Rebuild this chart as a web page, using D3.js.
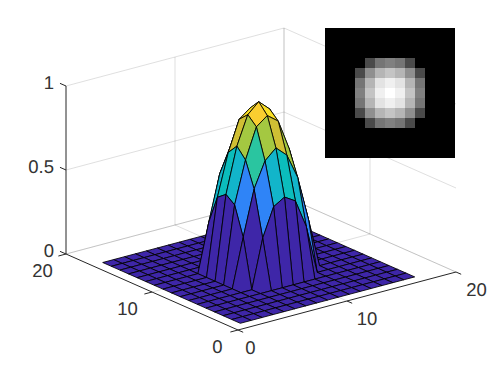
<!DOCTYPE html>
<html>
<head>
<meta charset="utf-8">
<script src="https://d3js.org/d3.v7.min.js"></script>
<style>
  html,body{margin:0;padding:0;background:#fff;overflow:hidden;}
  svg{display:block;}
  text{font-family:"Liberation Sans",Arial,sans-serif;font-size:18.5px;fill:#333;text-rendering:geometricPrecision;}
</style>
</head>
<body>
<svg></svg>
<script>
// image values, 0 = black, 1 = white
var imageRows = [
  [0,0,0,0,0,0,0,0,0,0,0,0,0],
  [0,0,0,0,0,0,0,0,0,0,0,0,0],
  [0,0,0,0,0,0,0,0,0,0,0,0,0],
  [0,0,0,0,.29,.46,.5,.46,.29,0,0,0,0],
  [0,0,0,.29,.56,.71,.77,.71,.56,.29,0,0,0],
  [0,0,0,.46,.71,.89,.94,.89,.71,.46,0,0,0],
  [0,0,0,.5,.77,.94,1,.94,.77,.5,0,0,0],
  [0,0,0,.46,.71,.89,.94,.89,.71,.46,0,0,0],
  [0,0,0,.29,.56,.71,.77,.71,.56,.29,0,0,0],
  [0,0,0,0,.29,.46,.5,.46,.29,0,0,0,0],
  [0,0,0,0,0,0,0,0,0,0,0,0,0],
  [0,0,0,0,0,0,0,0,0,0,0,0,0],
  [0,0,0,0,0,0,0,0,0,0,0,0,0]
];
var surfacePad = 2;
var xTicks = [0,10,20];
var yTicks = [0,10,20];
var zTicks = [0,0.5,1];
var zTickLabels = ["0","0.5","1"];
var parulaStops = ["#3e26a8","#4741e5","#4563fd","#2d88f6","#1ca9e0","#0bbdbc","#3fca8e","#9dc943","#e6bb2d","#fcd030","#f9fb15"];

var width = 503, height = 372;
var svg = d3.select("svg").attr("width",width).attr("height",height);

// oblique view: every axis adds its own screen offset
var xToPx = d3.scaleLinear().domain([0,20]).range([238,456]);
var xToPy = d3.scaleLinear().domain([0,20]).range([330,272]);
var yToPx = d3.scaleLinear().domain([0,20]).range([0,-172]);
var yToPy = d3.scaleLinear().domain([0,20]).range([0,-76]);
var zToPy = d3.scaleLinear().domain([0,1]).range([0,-168]);
var color = d3.scaleLinear().domain(d3.range(11).map(function(d){return d/10})).range(parulaStops);

function project(x,y,z){
  return [xToPx(x)+yToPx(y), xToPy(x)+yToPy(y)+zToPy(z)];
}
var line = d3.line();

function seg(parent,a,b,stroke,w){
  parent.append("path")
        .attr("d",line([project(a[0],a[1],a[2]),project(b[0],b[1],b[2])]))
        .attr("fill","none")
        .attr("stroke",stroke)
        .attr("stroke-width",w);
}

// grid on the two back walls and the floor
var grid = svg.append("g").attr("stroke-opacity",0.15);
zTicks.forEach(function(z){
  seg(grid,[0,20,z],[20,20,z],"#262626",1);
  seg(grid,[20,20,z],[20,0,z],"#262626",1);
});
xTicks.slice(1).forEach(function(x){
  seg(grid,[x,20,0],[x,20,1],"#262626",1);
  seg(grid,[x,0,0],[x,20,0],"#262626",1);
});
yTicks.slice(1).forEach(function(y){
  seg(grid,[20,y,0],[20,y,1],"#262626",1);
  seg(grid,[0,y,0],[20,y,0],"#262626",1);
});

// axis lines and ticks
var axes = svg.append("g");
seg(axes,[0,20,0],[0,20,1],"#262626",1);
seg(axes,[0,0,0],[20,0,0],"#262626",1);
seg(axes,[0,0,0],[0,20,0],"#262626",1);
zTicks.forEach(function(z){
  seg(axes,[0,20,z],[0,20.7,z],"#262626",1);
});
xTicks.forEach(function(x){
  seg(axes,[x,0,0],[x,-0.6,0],"#262626",1);
});
yTicks.forEach(function(y){
  seg(axes,[0,y,0],[-0.7,y,0],"#262626",1);
});

// surface: the image with a zero border, x and y run 1..17
var n = imageRows.length + 2*surfacePad;
function height3d(i,j){
  var r = imageRows[j-surfacePad], v = r ? r[i-surfacePad] : 0;
  return v === undefined ? 0 : v;
}
var faces = [];
// back to front so nearer faces cover farther ones
for(var i=n-2;i>=0;i--){
  for(var j=n-2;j>=0;j--){
    faces.push({i:i,j:j});
  }
}
svg.append("g").selectAll("path")
   .data(faces)
   .enter()
   .append("path")
   .attr("d",function(d){
     var c = [[d.i,d.j],[d.i+1,d.j],[d.i+1,d.j+1],[d.i,d.j+1]];
     return line(c.map(function(p){
       return project(p[0]+1,p[1]+1,height3d(p[0],p[1]));
     }))+"Z";
   })
   .attr("fill",function(d){return color(height3d(d.i,d.j))})
   .attr("stroke","#000")
   .attr("stroke-width",0.85)
   .attr("stroke-linejoin","round");

// tick labels
var labels = svg.append("g");
var xShift = d3.scaleLinear().domain([0,10,20]).range([12.5,20,20.5]);
var yShift = d3.scaleLinear().domain([0,10,20]).range([-20.5,-24.5,-23.5]);
xTicks.forEach(function(x){
  var p = project(x,0,0);
  labels.append("text").attr("x",p[0]+xShift(x)).attr("y",p[1]+18)
        .attr("text-anchor","middle").attr("dy","0.35em").text(x);
});
yTicks.forEach(function(y){
  var p = project(0,y,0);
  labels.append("text").attr("x",p[0]+yShift(y)).attr("y",p[1]+16.5)
        .attr("text-anchor","middle").attr("dy","0.35em").text(y);
});
zTicks.forEach(function(z,k){
  var p = project(0,20,z);
  labels.append("text").attr("x",p[0]-12).attr("y",p[1]-3.5)
        .attr("text-anchor","end").attr("dy","0.35em").text(zTickLabels[k]);
});

// inset image
var cols = d3.range(imageRows[0].length);
var insetX = d3.scaleBand().domain(cols).range([325,455]);
var insetY = d3.scaleBand().domain(d3.range(imageRows.length)).range([28,158]);
var gray = d3.scaleLinear().domain([0,1]).range(["#000","#fff"]);
svg.append("g").attr("shape-rendering","crispEdges")
   .selectAll("g")
   .data(imageRows)
   .enter()
   .append("g")
   .selectAll("rect")
   .data(function(row,r){
     return row.map(function(v,c){return {r:r,c:c,v:v}});
   })
   .enter()
   .append("rect")
   .attr("x",function(d){return insetX(d.c)})
   .attr("y",function(d){return insetY(d.r)})
   .attr("width",insetX.bandwidth())
   .attr("height",insetY.bandwidth())
   .attr("fill",function(d){return gray(d.v)});
</script>
</body>
</html>
